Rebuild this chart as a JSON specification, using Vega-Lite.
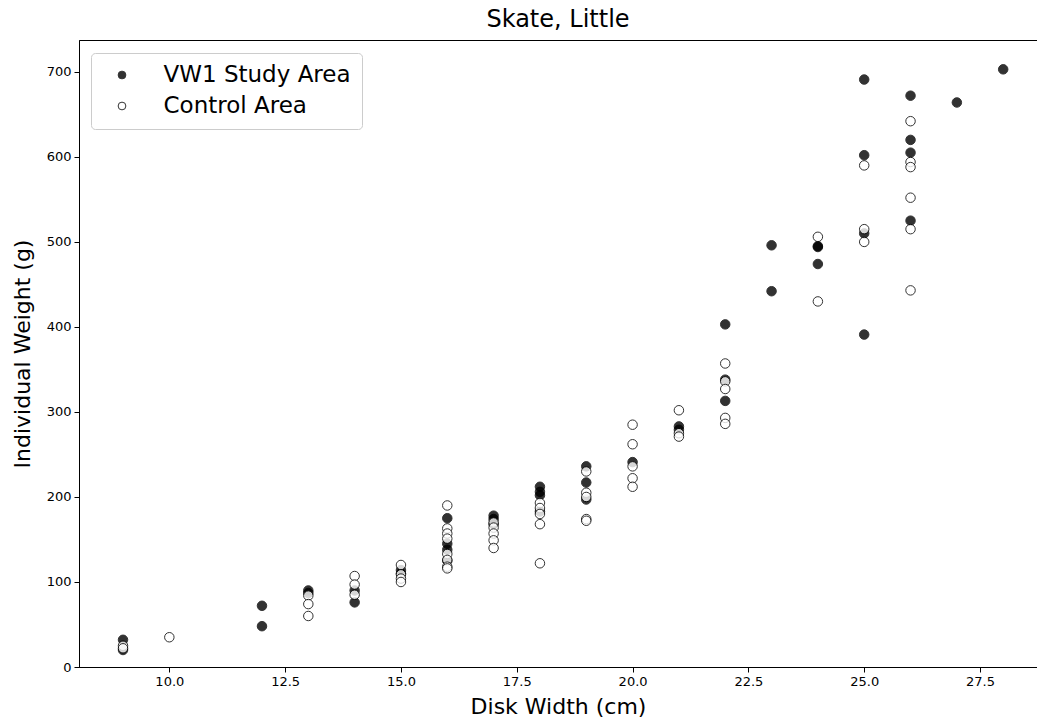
{
  "$schema": "https://vega.github.io/schema/vega-lite/v6.json",
  "autosize": "none",
  "padding": {"left": 79, "top": 40, "right": 0, "bottom": 56},
  "width": 958,
  "height": 627,
  "background": "white",
  "config": {
    "font": "DejaVu Sans",
    "view": {"stroke": "black", "strokeWidth": 1},
    "axis": {"grid": false, "domainColor": "black", "tickColor": "black", "labelColor": "black", "titleColor": "black", "labelFontSize": 13, "tickSize": 5, "labelPadding": 3, "titleFontSize": 22, "titleFontWeight": "normal", "labelFont": "DejaVu Sans", "titleFont": "DejaVu Sans"}
  },
  "title": {"text": "Skate, Little", "fontSize": 24, "fontWeight": "normal", "font": "DejaVu Sans", "color": "black", "offset": 8},
  "data": {"values": [
    {"area": "VW1 Study Area", "width": 9, "weight": 32},
    {"area": "VW1 Study Area", "width": 9, "weight": 20},
    {"area": "VW1 Study Area", "width": 12, "weight": 72},
    {"area": "VW1 Study Area", "width": 12, "weight": 48},
    {"area": "VW1 Study Area", "width": 13, "weight": 90},
    {"area": "VW1 Study Area", "width": 13, "weight": 87},
    {"area": "VW1 Study Area", "width": 14, "weight": 90},
    {"area": "VW1 Study Area", "width": 14, "weight": 76},
    {"area": "VW1 Study Area", "width": 15, "weight": 114},
    {"area": "VW1 Study Area", "width": 15, "weight": 110},
    {"area": "VW1 Study Area", "width": 16, "weight": 175},
    {"area": "VW1 Study Area", "width": 16, "weight": 145},
    {"area": "VW1 Study Area", "width": 16, "weight": 138},
    {"area": "VW1 Study Area", "width": 16, "weight": 125},
    {"area": "VW1 Study Area", "width": 17, "weight": 178},
    {"area": "VW1 Study Area", "width": 17, "weight": 174},
    {"area": "VW1 Study Area", "width": 17, "weight": 168},
    {"area": "VW1 Study Area", "width": 18, "weight": 212},
    {"area": "VW1 Study Area", "width": 18, "weight": 206},
    {"area": "VW1 Study Area", "width": 18, "weight": 202},
    {"area": "VW1 Study Area", "width": 18, "weight": 183},
    {"area": "VW1 Study Area", "width": 19, "weight": 236},
    {"area": "VW1 Study Area", "width": 19, "weight": 217},
    {"area": "VW1 Study Area", "width": 19, "weight": 197},
    {"area": "VW1 Study Area", "width": 20, "weight": 241},
    {"area": "VW1 Study Area", "width": 21, "weight": 283},
    {"area": "VW1 Study Area", "width": 21, "weight": 279},
    {"area": "VW1 Study Area", "width": 22, "weight": 403},
    {"area": "VW1 Study Area", "width": 22, "weight": 338},
    {"area": "VW1 Study Area", "width": 22, "weight": 313},
    {"area": "VW1 Study Area", "width": 23, "weight": 496},
    {"area": "VW1 Study Area", "width": 23, "weight": 442},
    {"area": "VW1 Study Area", "width": 24, "weight": 495},
    {"area": "VW1 Study Area", "width": 24, "weight": 494},
    {"area": "VW1 Study Area", "width": 24, "weight": 474},
    {"area": "VW1 Study Area", "width": 25, "weight": 691},
    {"area": "VW1 Study Area", "width": 25, "weight": 602},
    {"area": "VW1 Study Area", "width": 25, "weight": 510},
    {"area": "VW1 Study Area", "width": 25, "weight": 391},
    {"area": "VW1 Study Area", "width": 26, "weight": 672},
    {"area": "VW1 Study Area", "width": 26, "weight": 620},
    {"area": "VW1 Study Area", "width": 26, "weight": 605},
    {"area": "VW1 Study Area", "width": 26, "weight": 525},
    {"area": "VW1 Study Area", "width": 27, "weight": 664},
    {"area": "VW1 Study Area", "width": 28, "weight": 703},
    {"area": "Control Area", "width": 9, "weight": 25},
    {"area": "Control Area", "width": 9, "weight": 22},
    {"area": "Control Area", "width": 10, "weight": 35},
    {"area": "Control Area", "width": 13, "weight": 84},
    {"area": "Control Area", "width": 13, "weight": 74},
    {"area": "Control Area", "width": 13, "weight": 60},
    {"area": "Control Area", "width": 14, "weight": 107},
    {"area": "Control Area", "width": 14, "weight": 97},
    {"area": "Control Area", "width": 14, "weight": 85},
    {"area": "Control Area", "width": 15, "weight": 120},
    {"area": "Control Area", "width": 15, "weight": 109},
    {"area": "Control Area", "width": 15, "weight": 104},
    {"area": "Control Area", "width": 15, "weight": 100},
    {"area": "Control Area", "width": 16, "weight": 190},
    {"area": "Control Area", "width": 16, "weight": 163},
    {"area": "Control Area", "width": 16, "weight": 157},
    {"area": "Control Area", "width": 16, "weight": 151},
    {"area": "Control Area", "width": 16, "weight": 133},
    {"area": "Control Area", "width": 16, "weight": 126},
    {"area": "Control Area", "width": 16, "weight": 118},
    {"area": "Control Area", "width": 16, "weight": 116},
    {"area": "Control Area", "width": 17, "weight": 170},
    {"area": "Control Area", "width": 17, "weight": 164},
    {"area": "Control Area", "width": 17, "weight": 157},
    {"area": "Control Area", "width": 17, "weight": 149},
    {"area": "Control Area", "width": 17, "weight": 140},
    {"area": "Control Area", "width": 18, "weight": 193},
    {"area": "Control Area", "width": 18, "weight": 187},
    {"area": "Control Area", "width": 18, "weight": 180},
    {"area": "Control Area", "width": 18, "weight": 168},
    {"area": "Control Area", "width": 18, "weight": 122},
    {"area": "Control Area", "width": 19, "weight": 230},
    {"area": "Control Area", "width": 19, "weight": 205},
    {"area": "Control Area", "width": 19, "weight": 200},
    {"area": "Control Area", "width": 19, "weight": 174},
    {"area": "Control Area", "width": 19, "weight": 172},
    {"area": "Control Area", "width": 20, "weight": 285},
    {"area": "Control Area", "width": 20, "weight": 262},
    {"area": "Control Area", "width": 20, "weight": 236},
    {"area": "Control Area", "width": 20, "weight": 222},
    {"area": "Control Area", "width": 20, "weight": 212},
    {"area": "Control Area", "width": 21, "weight": 302},
    {"area": "Control Area", "width": 21, "weight": 275},
    {"area": "Control Area", "width": 21, "weight": 271},
    {"area": "Control Area", "width": 22, "weight": 357},
    {"area": "Control Area", "width": 22, "weight": 336},
    {"area": "Control Area", "width": 22, "weight": 327},
    {"area": "Control Area", "width": 22, "weight": 293},
    {"area": "Control Area", "width": 22, "weight": 286},
    {"area": "Control Area", "width": 24, "weight": 506},
    {"area": "Control Area", "width": 24, "weight": 430},
    {"area": "Control Area", "width": 25, "weight": 590},
    {"area": "Control Area", "width": 25, "weight": 515},
    {"area": "Control Area", "width": 25, "weight": 500},
    {"area": "Control Area", "width": 26, "weight": 642},
    {"area": "Control Area", "width": 26, "weight": 594},
    {"area": "Control Area", "width": 26, "weight": 588},
    {"area": "Control Area", "width": 26, "weight": 552},
    {"area": "Control Area", "width": 26, "weight": 515},
    {"area": "Control Area", "width": 26, "weight": 443}
  ]},
  "mark": {"type": "point", "shape": "circle", "filled": true, "size": 90, "stroke": "black", "strokeWidth": 1, "opacity": 0.8},
  "encoding": {
    "x": {"field": "width", "type": "quantitative", "title": "Disk Width (cm)",
          "scale": {"domain": [8.05, 28.73], "nice": false, "zero": false},
          "axis": {"values": [10, 12.5, 15, 17.5, 20, 22.5, 25, 27.5], "format": ".1f", "titlePadding": 8}},
    "y": {"field": "weight", "type": "quantitative", "title": "Individual Weight (g)",
          "scale": {"domain": [0, 737.5], "nice": false},
          "axis": {"values": [0, 100, 200, 300, 400, 500, 600, 700], "titlePadding": 12}},
    "fill": {"field": "area", "type": "nominal",
             "scale": {"domain": ["VW1 Study Area", "Control Area"], "range": ["black", "white"]},
             "legend": {"title": null, "orient": "none", "legendX": 12, "legendY": 13, "padding": 10.5,
                        "strokeColor": "#cccccc", "fillColor": "white", "cornerRadius": 4,
                        "labelFontSize": 23, "labelColor": "black", "labelFont": "DejaVu Sans", "labelLimit": 400,
                        "symbolType": "circle", "symbolSize": 60, "symbolStrokeColor": "black", "symbolStrokeWidth": 1, "symbolOpacity": 0.8,
                        "symbolOffset": 9, "labelOffset": 30, "rowPadding": 7}}
  }
}
